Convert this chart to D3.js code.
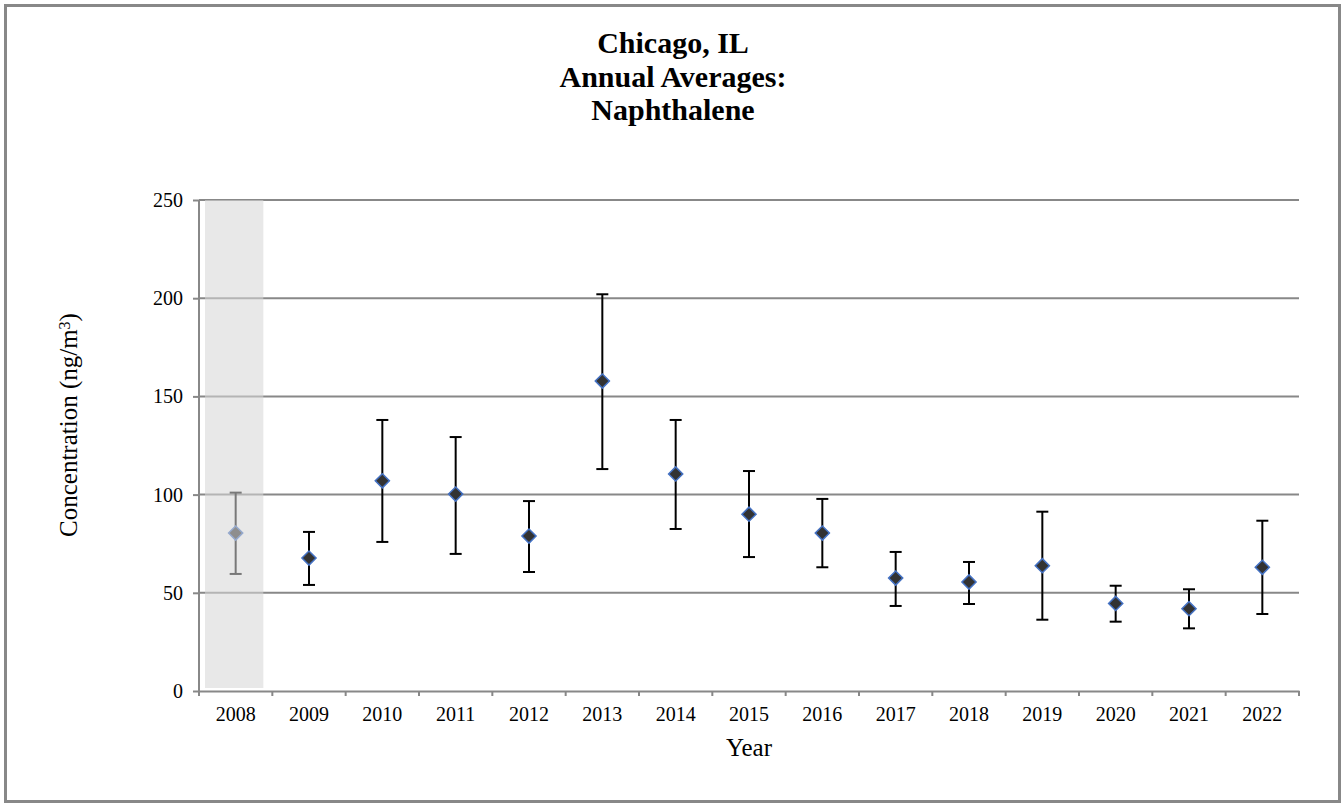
<!DOCTYPE html>
<html lang="en">

<head>
    <meta charset="UTF-8">
    <title>Chicago, IL Annual Averages: Naphthalene</title>
    <script src="https://d3js.org/d3.v7.min.js"></script>

    <style>
        body {
            margin: 0;
            background: #ffffff;
        }

        text {
            font-family: "Liberation Serif", "Times New Roman", serif;
            fill: #000000;
        }
    </style>

</head>

<body>

    <div id="chart"></div>

    <script>
        // Annual averages with the 95% confidence bounds
        var years = ["2008", "2009", "2010", "2011", "2012", "2013", "2014", "2015",
            "2016", "2017", "2018", "2019", "2020", "2021", "2022"];
        var means = [80.4, 67.7, 107, 100.3, 78.9, 157.8, 110.5, 90, 80.4, 57.5, 55.5, 63.8, 44.6, 41.9, 63];
        var upper = [101, 81, 138, 129.3, 96.7, 202, 138, 112, 97.8, 70.8, 65.7, 91.3, 53.6, 51.8, 86.7];
        var lower = [59.6, 54, 75.9, 69.8, 60.6, 113, 82.5, 68.2, 63, 43.3, 44.3, 36.3, 35.3, 31.9, 39.2];
        var yTicks = [0, 50, 100, 150, 200, 250];
        // years shaded out (incomplete data)
        var shadedYears = ["2008"];

        var titleLines = ["Chicago, IL", "Annual Averages:", "Naphthalene"];

        var width = 1344;
        var height = 807;

        var margin = { top: 200, right: 45, bottom: 116, left: 199 };

        var svg = d3.select("#chart")
            .append("svg")
            .attr("width", width)
            .attr("height", height);

        // outer frame
        svg.append("rect")
            .attr("x", 5.5)
            .attr("y", 5.5)
            .attr("width", width - 10)
            .attr("height", height - 11)
            .style("fill", "#ffffff")
            .style("stroke", "#888888")
            .style("stroke-width", 3);

        var x = d3.scaleBand()
            .domain(years)
            .range([margin.left, width - margin.right])
            .padding(0);

        var y = d3.scaleLinear()
            .domain([0, 250])
            .range([height - margin.bottom, margin.top]);

        // gridlines
        svg.append("g")
            .selectAll("line")
            .data(yTicks.filter(function (d) { return d > 0; }))
            .join("line")
            .attr("x1", margin.left)
            .attr("x2", width - margin.right)
            .attr("y1", function (d) { return y(d); })
            .attr("y2", function (d) { return y(d); })
            .style("stroke", "#888888")
            .style("stroke-width", 2);

        // error bars
        var bars = svg.append("g")
            .selectAll("g")
            .data(years)
            .join("g");

        bars.append("line")
            .attr("x1", function (d) { return x(d) + x.bandwidth() / 2; })
            .attr("x2", function (d) { return x(d) + x.bandwidth() / 2; })
            .attr("y1", function (d, i) { return y(upper[i]); })
            .attr("y2", function (d, i) { return y(lower[i]); })
            .style("stroke", "#000000")
            .style("stroke-width", 2);

        bars.append("line")
            .attr("x1", function (d) { return x(d) + x.bandwidth() / 2 - 6; })
            .attr("x2", function (d) { return x(d) + x.bandwidth() / 2 + 6; })
            .attr("y1", function (d, i) { return y(upper[i]); })
            .attr("y2", function (d, i) { return y(upper[i]); })
            .style("stroke", "#000000")
            .style("stroke-width", 2);

        bars.append("line")
            .attr("x1", function (d) { return x(d) + x.bandwidth() / 2 - 6; })
            .attr("x2", function (d) { return x(d) + x.bandwidth() / 2 + 6; })
            .attr("y1", function (d, i) { return y(lower[i]); })
            .attr("y2", function (d, i) { return y(lower[i]); })
            .style("stroke", "#000000")
            .style("stroke-width", 2);

        // diamond markers
        var diamond = d3.symbol().type(d3.symbolSquare).size(100);
        bars.append("path")
            .attr("d", diamond)
            .attr("transform", function (d, i) {
                return "translate(" + (x(d) + x.bandwidth() / 2) + "," + y(means[i]) + ") rotate(45)";
            })
            .style("fill", "#333333")
            .style("stroke", "#4472c4")
            .style("stroke-width", 1.5);

        // shaded band laid over the first year
        svg.append("g")
            .selectAll("rect")
            .data(shadedYears)
            .join("rect")
            .attr("x", function (d) { return x(d) + 6; })
            .attr("y", y(250))
            .attr("width", x.bandwidth() - 15)
            .attr("height", y(0) - y(250) - 3)
            .style("fill", "#d6d6d6")
            .style("fill-opacity", 0.56);

        // axes
        var yAxis = svg.append("g")
            .attr("transform", "translate(" + margin.left + ",0)")
            .call(d3.axisLeft(y).tickValues(yTicks).tickSize(6).tickPadding(10).tickFormat(d3.format("d")));

        var xAxis = svg.append("g")
            .attr("transform", "translate(0," + y(0) + ")")
            .call(d3.axisBottom(x).tickSize(0).tickPadding(16));

        // tick marks sit on the band edges
        xAxis.append("g")
            .selectAll("line")
            .data(years.concat(["end"]))
            .join("line")
            .attr("x1", function (d, i) { return i < years.length ? x(d) : x.range()[1]; })
            .attr("x2", function (d, i) { return i < years.length ? x(d) : x.range()[1]; })
            .attr("y1", 0)
            .attr("y2", 5)
            .style("stroke", "#888888")
            .style("stroke-width", 2);

        [yAxis, xAxis].forEach(function (a) {
            a.select(".domain").style("stroke", "#888888").style("stroke-width", 2);
            a.selectAll(".tick line").style("stroke", "#888888").style("stroke-width", 2);
            a.selectAll("text")
                .style("font-family", "Liberation Serif")
                .style("font-size", "20px")
                .style("fill", "#000000");
        });
        yAxis.select(".domain").attr("d", "M0," + y(250) + "V" + y(0));

        // titles
        svg.append("g")
            .selectAll("text")
            .data(titleLines)
            .join("text")
            .attr("x", 673)
            .attr("y", function (d, i) { return 53 + i * 33.5; })
            .attr("text-anchor", "middle")
            .style("font-size", "30px")
            .style("font-weight", "bold")
            .text(function (d) { return d; });

        svg.append("text")
            .attr("x", (x.range()[0] + x.range()[1]) / 2)
            .attr("y", 756)
            .attr("text-anchor", "middle")
            .style("font-size", "25px")
            .text("Year");

        var yLabel = svg.append("text")
            .attr("transform", "translate(77,425) rotate(-90)")
            .attr("text-anchor", "middle")
            .style("font-size", "25px");
        yLabel.append("tspan").text("Concentration (ng/m");
        yLabel.append("tspan").attr("dy", "-0.45em").style("font-size", "16px").text("3");
        yLabel.append("tspan").attr("dy", "0.3em").text(")");

    </script>
</body>

</html>
